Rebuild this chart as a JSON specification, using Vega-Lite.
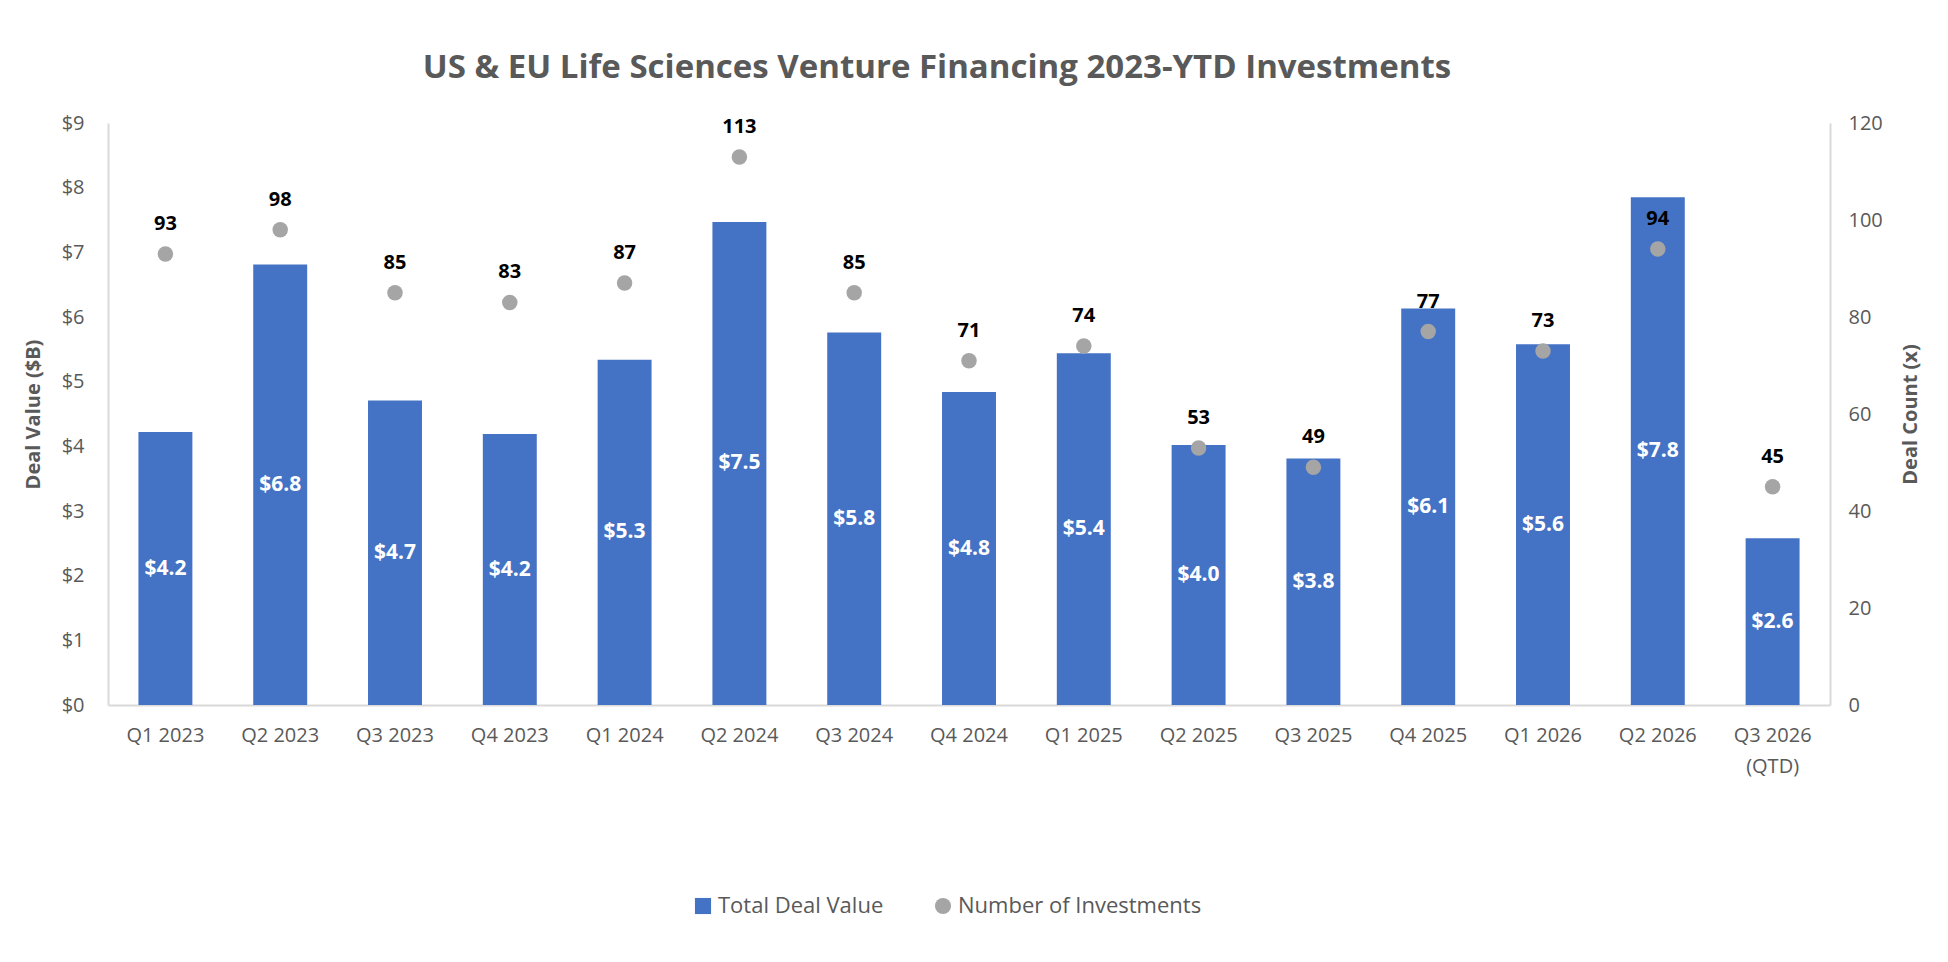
{
  "$schema": "https://vega.github.io/schema/vega-lite/v6.json",
  "autosize": {"type": "none"},
  "width": 1722,
  "height": 582,
  "padding": {"left": 108, "top": 123, "right": 118, "bottom": 257},
  "background": "white",
  "title": {
    "text": "US & EU Life Sciences Venture Financing 2023-YTD Investments",
    "font": "Open Sans",
    "fontSize": 33,
    "fontWeight": "bold",
    "color": "#595959",
    "anchor": "middle",
    "dx": -32,
    "offset": 28
  },
  "config": {
    "view": {"stroke": null},
    "font": "Open Sans",
    "axis": {
      "labelFont": "Open Sans",
      "labelFontSize": 20,
      "labelColor": "#595959",
      "titleFont": "Open Sans",
      "titleFontSize": 20,
      "titleFontWeight": "bold",
      "titleColor": "#595959",
      "domainColor": "#D9D9D9",
      "domainWidth": 2,
      "ticks": false,
      "grid": false,
      "labelOverlap": false
    }
  },
  "data": {
    "values": [
      {"quarter": "Q1 2023", "value": 4.22, "count": 93},
      {"quarter": "Q2 2023", "value": 6.81, "count": 98},
      {"quarter": "Q3 2023", "value": 4.71, "count": 85},
      {"quarter": "Q4 2023", "value": 4.19, "count": 83},
      {"quarter": "Q1 2024", "value": 5.34, "count": 87},
      {"quarter": "Q2 2024", "value": 7.47, "count": 113},
      {"quarter": "Q3 2024", "value": 5.76, "count": 85},
      {"quarter": "Q4 2024", "value": 4.84, "count": 71},
      {"quarter": "Q1 2025", "value": 5.44, "count": 74},
      {"quarter": "Q2 2025", "value": 4.02, "count": 53},
      {"quarter": "Q3 2025", "value": 3.81, "count": 49},
      {"quarter": "Q4 2025", "value": 6.13, "count": 77},
      {"quarter": "Q1 2026", "value": 5.58, "count": 73},
      {"quarter": "Q2 2026", "value": 7.85, "count": 94},
      {"quarter": "Q3 2026 (QTD)", "value": 2.58, "count": 45}
    ]
  },
  "encoding": {
    "x": {
      "field": "quarter",
      "type": "nominal",
      "sort": null,
      "title": null,
      "scale": {"paddingInner": 0.53, "paddingOuter": 0.265},
      "axis": {
        "labelAngle": 0,
        "labelPadding": 20,
        "labelLineHeight": 31,
        "labelExpr": "datum.label == 'Q3 2026 (QTD)' ? ['Q3 2026', '(QTD)'] : datum.label"
      }
    }
  },
  "layer": [
    {
      "mark": {"type": "bar", "color": "#4472C4"},
      "encoding": {
        "y": {
          "field": "value",
          "type": "quantitative",
          "title": "Deal Value ($B)",
          "scale": {"domain": [0, 9]},
          "axis": {
            "values": [0, 1, 2, 3, 4, 5, 6, 7, 8, 9],
            "format": "$.0f",
            "labelPadding": 24,
            "titlePadding": 18
          }
        },
        "color": {
          "datum": "Total Deal Value",
          "type": "nominal",
          "scale": {
            "domain": ["Total Deal Value", "Number of Investments"],
            "range": ["#4472C4", "#A5A5A5"]
          },
          "legend": {
            "title": null,
            "orient": "none",
            "legendX": 584,
            "legendY": 772,
            "direction": "horizontal",
            "labelFont": "Open Sans",
            "labelFontSize": 22,
            "labelColor": "#595959",
            "labelLimit": 400,
            "symbolSize": 260,
            "columnPadding": 48,
            "encode": {
              "symbols": {
                "update": {
                  "shape": {"signal": "datum.value == 'Total Deal Value' ? 'square' : 'circle'"}
                }
              }
            }
          }
        }
      }
    },
    {
      "mark": {
        "type": "text",
        "color": "white",
        "fontWeight": "bold",
        "fontSize": 21,
        "baseline": "middle"
      },
      "encoding": {
        "y": {
          "field": "value",
          "type": "quantitative",
          "scale": {"domain": [0, 18]},
          "axis": null
        },
        "text": {"field": "value", "type": "quantitative", "format": "$.1f"}
      }
    },
    {
      "mark": {"type": "point", "filled": true, "shape": "circle", "size": 240, "opacity": 1},
      "encoding": {
        "y": {
          "field": "count",
          "type": "quantitative",
          "title": "Deal Count (x)",
          "scale": {"domain": [0, 120]},
          "axis": {
            "orient": "right",
            "values": [0, 20, 40, 60, 80, 100, 120],
            "labelPadding": 18,
            "titlePadding": 38,
            "titleAngle": 270
          }
        },
        "color": {"datum": "Number of Investments", "type": "nominal"}
      }
    },
    {
      "mark": {
        "type": "text",
        "color": "black",
        "fontWeight": "bold",
        "fontSize": 20,
        "baseline": "bottom",
        "dy": -20
      },
      "encoding": {
        "y": {
          "field": "count",
          "type": "quantitative",
          "scale": {"domain": [0, 120]},
          "axis": null
        },
        "text": {"field": "count", "type": "quantitative"}
      }
    }
  ],
  "resolve": {"scale": {"y": "independent"}}
}
